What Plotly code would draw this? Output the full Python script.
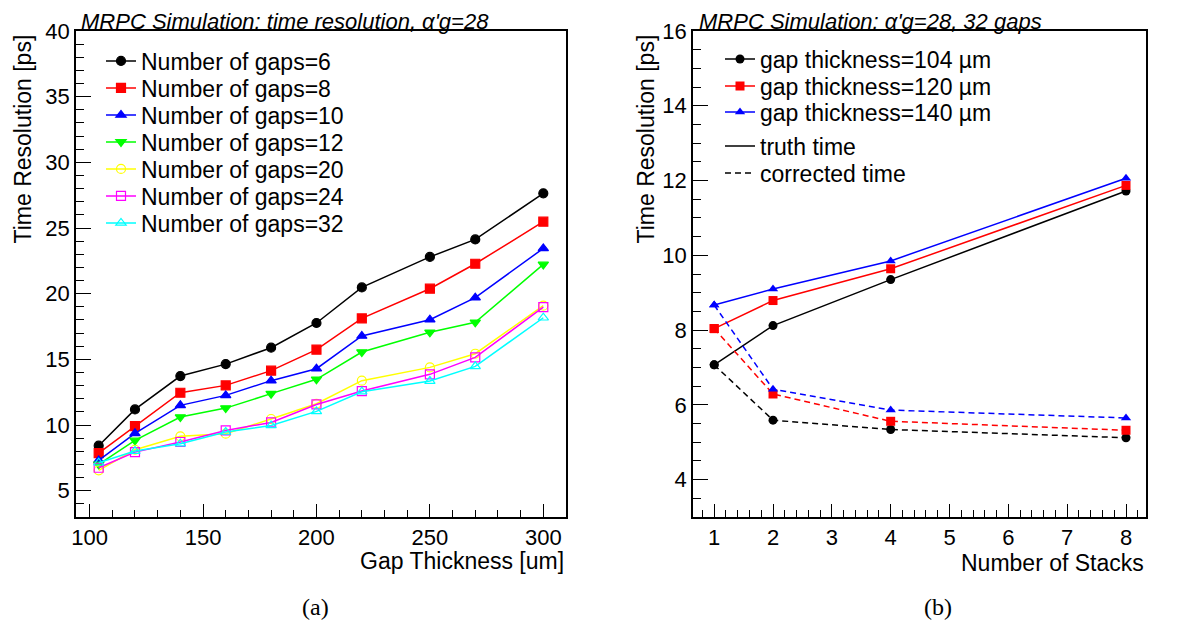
import plotly.graph_objects as go

# (a) разрешение по времени в зависимости от толщины зазора
gap_um = [104, 120, 140, 160, 180, 200, 220, 250, 270, 300]
n_gaps = [6, 8, 10, 12, 20, 24, 32]
res_by_gaps = {
    6:  [8.43, 11.19, 13.73, 14.64, 15.89, 17.77, 20.48, 22.80, 24.13, 27.64],
    8:  [7.87, 9.92, 12.46, 13.02, 14.14, 15.74, 18.12, 20.38, 22.28, 25.48],
    10: [7.31, 9.37, 11.50, 12.26, 13.38, 14.29, 16.78, 18.02, 19.70, 23.45],
    12: [7.00, 8.83, 10.61, 11.29, 12.39, 13.48, 15.56, 17.06, 17.82, 22.23],
    20: [6.55, 8.12, 9.14, 9.34, 10.46, 11.62, 13.38, 14.39, 15.43, 19.09],
    24: [6.75, 7.94, 8.71, 9.59, 10.20, 11.57, 12.59, 13.86, 15.15, 18.98],
    32: [7.13, 8.02, 8.58, 9.47, 9.97, 11.04, 12.54, 13.35, 14.47, 18.17],
}

# (b) разрешение в зависимости от числа стеков, 32 зазора
n_stacks = [1, 2, 4, 8]
thickness = [104, 120, 140]
truth_time = {
    104: [7.07, 8.12, 9.35, 11.72],
    120: [8.04, 8.79, 9.64, 11.87],
    140: [8.67, 9.10, 9.85, 12.06],
}
corrected_time = {
    104: [7.07, 5.59, 5.34, 5.12],
    120: [8.04, 6.29, 5.56, 5.32],
    140: [8.67, 6.42, 5.86, 5.65],
}

colors_a = ['#000000', '#ff0000', '#0000ff', '#00ff00', '#ffff00', '#ff00ff', '#00ffff']
symbols_a = ['circle', 'square', 'triangle-up', 'triangle-down',
             'circle-open', 'square-open', 'triangle-up-open']
colors_b = ['#000000', '#ff0000', '#0000ff']
symbols_b = ['circle', 'square', 'triangle-up']

# страница имеет отступ body 8px, поэтому фигура меньше окна на 16px
OFF = 8
W, H = 1194 - 2 * OFF, 632 - 2 * OFF
FONT = 'Liberation Sans, Arial, sans-serif'
FS = 22
FS_TXT = 23

def px_x(p):
    return (p - OFF) / W

def px_y(p):
    return 1 - (p - OFF) / H

# каждая запись легенды — отдельная легенда, чтобы задать шаг строк как в ROOT
legend_a_y = [61, 88, 115, 142, 169, 196, 223]
legend_b_y = [59, 86, 112, 146, 173]
legends = {}

fig = go.Figure()

for i, g in enumerate(n_gaps):
    key = f'legend{i + 1}' if i else 'legend'
    legends[key] = dict(x=px_x(101), y=px_y(legend_a_y[i]))
    fig.add_trace(go.Scatter(
        x=gap_um, y=res_by_gaps[g],
        mode='lines+markers',
        line=dict(color=colors_a[i], width=1.5),
        marker=dict(color=colors_a[i], symbol=symbols_a[i], size=9,
                    line=dict(color=colors_a[i], width=1.2)),
        name=f'Number of gaps={g}',
        xaxis='x', yaxis='y', legend=key,
    ))

for i, t in enumerate(thickness):
    key = f'legend{8 + i}'
    legends[key] = dict(x=px_x(720), y=px_y(legend_b_y[i]))
    fig.add_trace(go.Scatter(
        x=n_stacks, y=truth_time[t],
        mode='lines+markers',
        line=dict(color=colors_b[i], width=1.5),
        marker=dict(color=colors_b[i], symbol=symbols_b[i], size=9),
        name=f'gap thickness={t} µm',
        xaxis='x2', yaxis='y2', legend=key,
    ))
for i, t in enumerate(thickness):
    fig.add_trace(go.Scatter(
        x=n_stacks, y=corrected_time[t],
        mode='lines+markers',
        line=dict(color=colors_b[i], width=1.5, dash='6px,4px'),
        marker=dict(color=colors_b[i], symbol=symbols_b[i], size=9),
        showlegend=False,
        xaxis='x2', yaxis='y2',
    ))

# записи легенды для стиля линии
legends['legend11'] = dict(x=px_x(720), y=px_y(legend_b_y[3]))
legends['legend12'] = dict(x=px_x(720), y=px_y(legend_b_y[4]))
fig.add_trace(go.Scatter(x=[None], y=[None], mode='lines',
                         line=dict(color='black', width=1.5),
                         name='truth time', xaxis='x2', yaxis='y2', legend='legend11'))
fig.add_trace(go.Scatter(x=[None], y=[None], mode='lines',
                         line=dict(color='black', width=1.5, dash='6px,4px'),
                         name='corrected time', xaxis='x2', yaxis='y2', legend='legend12'))

for k, v in legends.items():
    v.update(xanchor='left', yanchor='middle', bgcolor='rgba(0,0,0,0)',
             font=dict(size=FS_TXT), borderwidth=0)

axis_common = dict(
    showline=True, mirror=True, linecolor='black', linewidth=1.5,
    showgrid=False, zeroline=False, ticks='inside', tickcolor='black',
    tickwidth=1, tickfont=dict(family=FONT, size=FS, color='black'),
    automargin=False,
)

fig.update_layout(
    width=W, height=H,
    margin=dict(l=0, r=0, t=0, b=0),
    paper_bgcolor='white', plot_bgcolor='white',
    font=dict(family=FONT, size=FS_TXT, color='black'),
    xaxis=dict(axis_common, domain=[px_x(76), px_x(566)], range=[94, 310],
               tick0=100, dtick=50, ticklen=13, anchor='y',
               minor=dict(dtick=10, ticklen=7, ticks='inside', tickcolor='black')),
    yaxis=dict(axis_common, domain=[px_y(517), px_y(31)], range=[3, 40],
               tick0=0, dtick=5, ticklen=15, anchor='x',
               minor=dict(dtick=1, ticklen=8, ticks='inside', tickcolor='black')),
    xaxis2=dict(axis_common, domain=[px_x(693), px_x(1146)], range=[0.64, 8.34],
                tick0=0, dtick=1, ticklen=13, anchor='y2',
                minor=dict(dtick=0.2, ticklen=7, ticks='inside', tickcolor='black')),
    yaxis2=dict(axis_common, domain=[px_y(517), px_y(31)], range=[3, 16],
                tick0=0, dtick=2, ticklen=15, anchor='x2',
                minor=dict(dtick=0.5, ticklen=8, ticks='inside', tickcolor='black')),
    showlegend=True,
    **legends,
)

annotations = [
    dict(text="<i>MRPC Simulation: time resolution, α'g=28</i>", x=px_x(80), y=1,
         xanchor='left', yanchor='top', borderpad=0, font=dict(size=22)),
    dict(text="<i>MRPC Simulation: α'g=28, 32 gaps</i>", x=px_x(698), y=1,
         xanchor='left', yanchor='top', borderpad=0, font=dict(size=22)),
    dict(text='Gap Thickness [um]', x=px_x(566), y=px_y(561),
         xanchor='right', yanchor='middle'),
    dict(text='Number of Stacks', x=px_x(1146), y=px_y(563),
         xanchor='right', yanchor='middle'),
    dict(text='Time Resolution [ps]', x=px_x(22), y=px_y(33), textangle=-90,
         xanchor='center', yanchor='top'),
    dict(text='Time Resolution [ps]', x=px_x(645), y=px_y(33), textangle=-90,
         xanchor='center', yanchor='top'),
    dict(text='(a)', x=px_x(315), y=px_y(607), xanchor='center', yanchor='middle',
         font=dict(family='Liberation Serif, DejaVu Serif, serif', size=24)),
    dict(text='(b)', x=px_x(938), y=px_y(607), xanchor='center', yanchor='middle',
         font=dict(family='Liberation Serif, DejaVu Serif, serif', size=24)),
]
for a in annotations:
    a.update(xref='paper', yref='paper', showarrow=False)
fig.update_layout(annotations=annotations)

fig.write_html("out.html")
